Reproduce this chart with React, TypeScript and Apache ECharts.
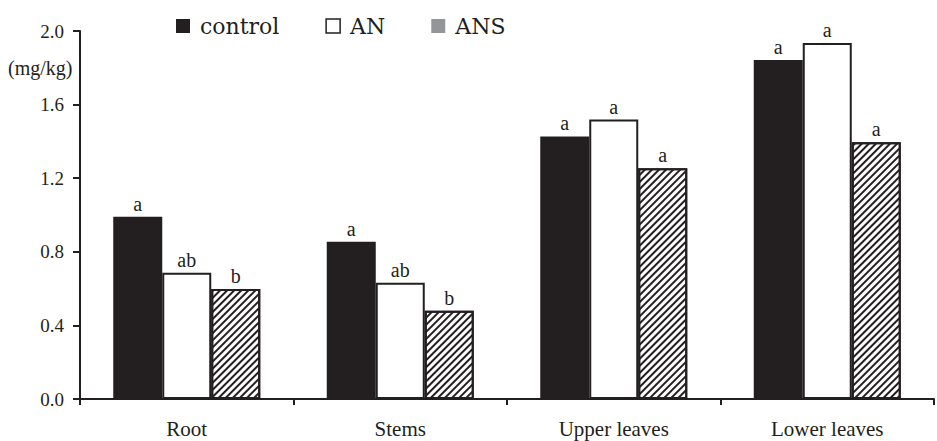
import React, { useEffect, useRef } from "react";
import * as echarts from "echarts";

const categories = ["Root", "Stems", "Upper leaves", "Lower leaves"];
const controlValues = [0.99, 0.855, 1.427, 1.843];
const anValues = [0.686, 0.632, 1.519, 1.935];
const ansValues = [0.598, 0.48, 1.254, 1.395];
const controlLetters = ["a", "a", "a", "a"];
const anLetters = ["ab", "ab", "a", "a"];
const ansLetters = ["b", "b", "a", "a"];
const yTicks = [0, 0.4, 0.8, 1.2, 1.6, 2.0];

const INK = "#231f20";
const FONT = "'Liberation Serif', 'DejaVu Serif', serif";

export default function App() {
  const ref = useRef<HTMLDivElement>(null);
  useEffect(() => {
    if (!ref.current) return;
    const chart = echarts.init(ref.current, null, { renderer: "svg" });
    const labelFor = (letters: string[]) => ({
      show: true,
      position: "top" as const,
      distance: 3,
      fontFamily: FONT,
      fontSize: 20,
      color: INK,
      formatter: (p: any) => letters[p.dataIndex],
    });
    const hatch = {
      symbol: "rect",
      symbolSize: 1,
      color: INK,
      backgroundColor: "#fff",
      dashArrayX: [[1, 0]],
      dashArrayY: [1.6, 2.2],
      rotation: -Math.PI / 4,
    };
    const legendText = {
      fontFamily: "DejaVu Serif",
      fontSize: 22,
      color: INK,
      padding: [0, 0, 0, 5],
    };
    chart.setOption({
      animation: false,
      textStyle: { fontFamily: FONT, color: INK },
      grid: { left: 80, right: 3, top: 31, bottom: 42, containLabel: false },
      legend: {
        top: 10,
        left: 171,
        itemGap: 46,
        itemWidth: 14,
        itemHeight: 14,
        icon: "rect",
        textStyle: legendText,
        data: [
          { name: "control", textStyle: legendText, itemStyle: { color: INK, borderWidth: 0 } },
          {
            name: "AN",
            textStyle: legendText,
            itemStyle: { color: "#fff", borderColor: INK, borderWidth: 1.5 },
          },
          { name: "ANS", textStyle: legendText, itemStyle: { color: "#939598", borderWidth: 0 } },
        ],
      },
      xAxis: {
        type: "category",
        data: categories,
        axisLine: { lineStyle: { color: INK, width: 2 } },
        axisTick: { show: true, length: 6, lineStyle: { color: INK, width: 2 } },
        axisLabel: { fontFamily: FONT, fontSize: 21, color: INK, margin: 19 },
      },
      yAxis: {
        type: "value",
        min: 0,
        max: 2.0,
        interval: 0.4,
        axisLine: { show: true, lineStyle: { color: INK, width: 2 } },
        axisTick: { show: true, length: 7, lineStyle: { color: INK, width: 2 } },
        axisLabel: {
          fontFamily: FONT,
          fontSize: 19,
          color: INK,
          margin: 16,
          formatter: (v: number) => {
            const t = yTicks.find((x) => Math.abs(x - v) < 1e-6);
            return (t !== undefined ? t : v).toFixed(1);
          },
        },
        splitLine: { show: false },
      },
      graphic: [
        {
          type: "text",
          left: 8,
          top: 58,
          style: { text: "(mg/kg)", fontFamily: FONT, fontSize: 20, fill: INK },
        },
      ],
      series: [
        {
          name: "control",
          type: "bar",
          data: controlValues,
          barWidth: 49,
          barGap: "0%",
          itemStyle: { color: INK, borderColor: INK, borderWidth: 2 },
          label: labelFor(controlLetters),
        },
        {
          name: "AN",
          type: "bar",
          data: anValues,
          barWidth: 49,
          barGap: "0%",
          itemStyle: { color: "#fff", borderColor: INK, borderWidth: 2 },
          label: labelFor(anLetters),
        },
        {
          name: "ANS",
          type: "bar",
          data: ansValues.map((v) => ({ value: v, itemStyle: { decal: hatch } })),
          barWidth: 49,
          barGap: "0%",
          itemStyle: { color: "#fff", borderColor: INK, borderWidth: 2 },
          label: labelFor(ansLetters),
        },
      ],
    });
    return () => chart.dispose();
  }, []);
  return (
    <div
      ref={ref}
      style={{ position: "fixed", left: 0, top: 0, width: 937, height: 441, background: "#fff" }}
    />
  );
}
